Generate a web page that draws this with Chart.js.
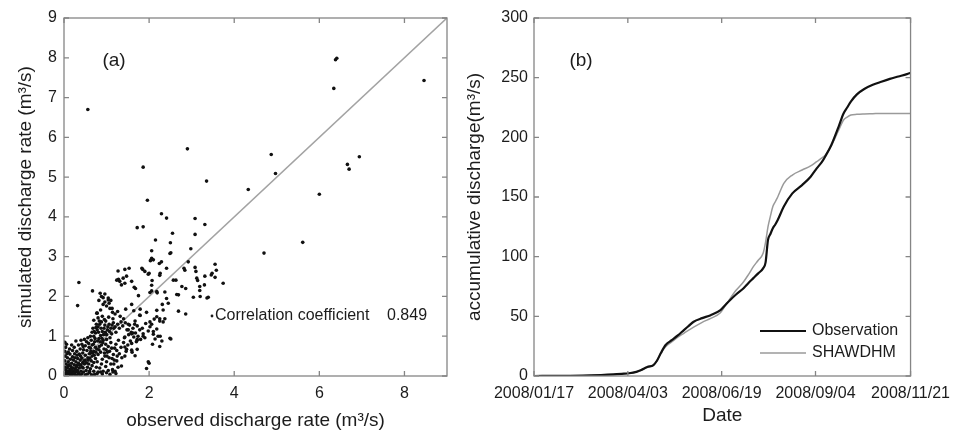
<!DOCTYPE html>
<html lang="en">
<head>
<meta charset="UTF-8">
<title>Observed vs simulated discharge</title>
<script src="https://cdn.jsdelivr.net/npm/chart.js"></script>
<style>
  body { margin: 0; background: #fff; }
  .wrap { position: relative; width: 958px; height: 430px; }
  .panel { position: absolute; top: 0; height: 430px; }
  #panelA { left: 0; width: 460px; }
  #panelB { left: 455px; width: 503px; }
</style>
</head>
<body>
<div class="wrap">
  <div class="panel" id="panelA"><canvas id="scatterChart"></canvas></div>
  <div class="panel" id="panelB"><canvas id="cumChart"></canvas></div>
</div>

<script>
// ---- (a) observed vs simulated discharge rate, [observed, simulated] in m3/s ----
const outlierPoints = [
  [0.56,6.70],[6.41,7.99],[6.38,7.95],[6.34,7.23],[8.46,7.43],[2.90,5.71],[1.86,5.25],
  [4.87,5.57],[4.97,5.09],[6.66,5.32],[6.70,5.20],[6.94,5.51],[3.35,4.90],[4.33,4.69],
  [6.00,4.57],[1.96,4.42],[5.61,3.36],[4.70,3.09],[2.29,4.08],[2.41,3.97],[3.08,3.96],
  [3.31,3.81],[1.72,3.73],[1.86,3.75]
];
const spreadPoints = [
  [2.15,3.42],[2.55,3.59],[3.08,3.56],[2.50,3.35],[2.06,3.15],[2.51,3.10],[2.98,3.20],
  [2.06,2.96],[2.10,2.92],[2.24,2.83],[2.29,2.87],[1.85,2.68],[1.90,2.63],[2.00,2.58],
  [2.26,2.58],[2.84,2.66],[3.08,2.73],[3.10,2.63],[3.55,2.81],[3.58,2.66],[3.48,2.58],
  [3.55,2.48],[3.74,2.33],[3.31,2.51],[2.07,2.40],[2.57,2.41],[2.63,2.41],[3.14,2.40],
  [2.86,2.20],[3.19,2.25],[3.19,2.15],[2.06,2.28],[2.06,2.14],[2.19,2.09],[2.37,2.11],
  [2.69,2.04],[3.04,1.98],[3.39,1.98],[1.68,2.20],[2.92,2.87],[3.12,2.46],[2.82,2.71],
  [2.65,2.05],[2.77,2.25],[2.31,1.80],[2.18,1.65],[2.69,1.63],[2.86,1.56],[2.41,1.95],
  [1.65,2.23],[1.75,2.02],[1.28,2.43],[1.43,2.68],[1.47,2.51],[1.53,2.71],[1.27,2.64],
  [1.35,2.29],[1.59,2.38],[1.39,2.46],[1.24,2.41],[1.31,2.38],[1.43,2.33],[1.83,2.71],
  [1.98,2.56],[2.02,2.10],[2.18,2.12],[2.25,2.53],[2.03,2.90],[2.49,3.08],[2.41,2.71],
  [3.20,2.00],[3.30,2.29],[3.46,2.54],[3.36,1.96],[0.35,2.35],[0.32,1.77],[0.67,2.14],
  [0.85,2.08],[0.96,2.06],[0.92,1.97],[1.04,1.91],[1.06,1.83],[0.77,1.58],[1.13,1.70]
];
const midPoints = [
  [2.25,1.44],[2.37,1.44],[2.33,1.36],[2.02,1.36],[2.18,1.49],[2.33,1.66],[2.45,1.83],
  [2.25,1.38],[2.02,1.24],[2.10,1.12],[2.21,1.00],[2.25,0.74],[2.49,0.95],[2.51,0.93],
  [1.94,0.19],[2.00,0.32],[1.98,0.36],[1.92,1.32],[1.67,0.51],[1.59,0.65],[1.43,0.73],
  [1.72,0.90],[1.86,1.00],[1.98,1.13],[2.10,1.05],[2.18,1.18],[2.14,0.93],[2.08,0.80],
  [2.26,1.00],[2.30,0.88],[2.06,1.30],[2.12,1.43],[1.94,1.60],[1.79,1.52],[1.64,1.64],
  [1.67,1.38],[1.51,1.30],[1.45,1.68],[1.59,1.80],[1.79,1.68],[1.43,0.98],[1.59,1.06],
  [1.78,1.53],[1.51,1.16],[1.62,1.08],[1.72,0.92],[1.59,0.82],[1.47,0.67],[1.72,0.67],
  [1.43,0.50],[1.24,0.38],[1.35,0.25]
];
const clusterPoints = [
  [0.02,0.01],[0.05,0.02],[0.08,0.01],[0.10,0.04],[0.03,0.06],[0.12,0.02],[0.15,0.05],
  [0.06,0.10],[0.18,0.03],[0.20,0.08],[0.04,0.15],[0.10,0.12],[0.14,0.16],[0.22,0.12],
  [0.25,0.04],[0.28,0.10],[0.30,0.02],[0.02,0.22],[0.08,0.20],[0.16,0.24],[0.20,0.20],
  [0.26,0.18],[0.32,0.14],[0.35,0.06],[0.38,0.02],[0.05,0.30],[0.12,0.28],[0.18,0.32],
  [0.24,0.28],[0.30,0.26],[0.36,0.20],[0.40,0.12],[0.02,0.38],[0.10,0.36],[0.15,0.42],
  [0.22,0.40],[0.28,0.36],[0.34,0.32],[0.40,0.28],[0.03,0.50],[0.08,0.46],[0.20,0.48],
  [0.26,0.46],[0.32,0.44],[0.38,0.40],[0.44,0.34],[0.02,0.62],[0.04,0.72],[0.02,0.85],
  [0.06,0.80],[0.10,0.60],[0.14,0.55],
  [0.42,0.05],[0.46,0.10],[0.50,0.03],[0.52,0.14],[0.45,0.20],[0.55,0.22],[0.60,0.08],
  [0.62,0.18],[0.48,0.30],[0.58,0.30],[0.66,0.26],[0.70,0.12],[0.72,0.04],[0.42,0.45],
  [0.50,0.40],[0.56,0.46],[0.64,0.38],[0.70,0.34],[0.76,0.22],[0.80,0.10],[0.36,0.55],
  [0.44,0.58],[0.50,0.52],[0.60,0.56],[0.66,0.50],[0.74,0.44],[0.78,0.36],[0.30,0.62],
  [0.38,0.68],[0.46,0.66],[0.54,0.64],[0.62,0.70],[0.70,0.62],[0.80,0.54],[0.34,0.78],
  [0.42,0.80],[0.50,0.76],[0.58,0.82],[0.66,0.78],[0.74,0.72],[0.82,0.66],[0.40,0.90],
  [0.48,0.92],[0.56,0.96],[0.64,0.90],[0.72,0.86],[0.28,0.88],[0.24,0.72],[0.20,0.64],
  [0.18,0.78],
  [0.70,1.00],[0.74,1.08],[0.78,1.16],[0.80,1.24],[0.84,1.30],[0.76,1.30],[0.86,1.02],
  [0.90,1.12],[0.94,1.20],[0.88,1.36],[0.96,1.28],[1.00,1.04],[1.02,1.16],[1.06,1.30],
  [0.98,1.38],[1.10,1.20],[1.12,1.06],[1.16,1.34],[1.20,1.24],[1.22,1.10],[1.26,1.30],
  [1.30,1.20],[1.34,1.36],[1.38,1.26],[0.82,0.94],[0.92,0.90],[1.00,0.92],[1.08,0.96],
  [0.68,1.20],[0.66,1.10],[0.62,1.00],[0.70,1.40],[0.80,1.46],[0.90,1.50],[0.78,1.58],
  [0.86,1.66],[0.92,1.80],[0.82,1.90],[0.96,1.86],[1.00,1.76],[0.88,2.00],[1.04,1.96],
  [1.10,1.90],[1.08,1.70],[1.14,1.60],[1.20,1.56],[1.26,1.62],[1.32,1.50],[1.40,1.44],
  [1.44,1.34],
  [0.84,0.20],[0.88,0.30],[0.90,0.42],[0.92,0.12],[0.96,0.50],[0.98,0.24],[1.00,0.36],
  [1.02,0.60],[1.04,0.14],[1.06,0.46],[1.10,0.30],[1.12,0.70],[1.14,0.16],[1.16,0.54],
  [1.18,0.40],[1.20,0.12],[1.22,0.80],[1.24,0.64],[1.10,0.84],[0.94,0.68],[0.86,0.60],
  [0.88,0.78],[0.98,0.80],[1.04,0.74],[1.30,0.56],[1.34,0.72],[1.28,0.90],[1.36,0.46],
  [1.40,0.84],[1.46,0.62],[1.50,0.78],[1.42,0.96],[1.56,0.88],[1.60,0.60],[1.64,0.98],
  [1.70,0.86],[1.52,1.04],[1.58,1.10],[1.68,1.08],[1.74,1.00],[1.80,0.92],[1.78,1.16],
  [1.86,1.06],[1.62,1.20],[1.48,1.16],[1.54,1.28],[1.66,1.30],[1.72,1.26],[1.84,1.20],
  [1.90,0.96],
  [0.55,0.05],[0.65,0.03],[0.78,0.06],[0.90,0.05],[1.00,0.08],[1.08,0.04],[1.15,0.10],
  [1.22,0.06],[0.60,0.12],[0.86,0.10]
];
const denseCorePoints = [
  [0.07,0.05],[0.13,0.08],[0.17,0.12],[0.23,0.07],[0.27,0.14],[0.33,0.09],[0.09,0.25],
  [0.19,0.16],[0.29,0.22],[0.37,0.27],[0.43,0.22],[0.47,0.38],[0.53,0.33],[0.57,0.40],
  [0.61,0.45],[0.67,0.58],[0.71,0.52],[0.75,0.60],[0.77,0.68],[0.83,0.74],[0.85,0.86],
  [0.89,0.95],[0.93,1.04],[0.97,1.10],[1.03,1.24],[1.07,1.12],[1.13,1.28],[1.17,1.20],
  [0.79,0.88],[0.73,0.94],[0.69,0.80],[0.63,0.62],[0.59,0.72],[0.53,0.86],[0.45,0.74],
  [0.39,0.50],[0.31,0.52],[0.25,0.56],[0.13,0.68],[0.07,0.56],[0.95,0.58],[1.01,0.50],
  [1.07,0.62],[1.13,0.44],[1.19,0.70],[1.25,0.50],[1.17,0.30],[1.27,0.22],[0.99,0.66],
  [0.91,0.84],[0.81,1.10],[0.87,1.20],[0.95,1.42],[1.05,1.48],[1.15,1.44],[0.75,1.22],
  [0.83,1.38],[0.71,1.12]
];
const oneToOne = [0, 9];
const rateXTicks = [0, 2, 4, 6, 8];
const rateYTicks = [0, 1, 2, 3, 4, 5, 6, 7, 8, 9];
const correlation = 0.849;

// ---- (b) accumulative discharge (m3/s), day counted from 2008/01/17 ----
const days = [0, 20, 40, 55, 65, 72, 78, 84, 88, 93, 98, 101, 104, 108, 113, 118, 123, 127,
  131, 138, 145, 153, 157, 161, 166, 172, 176, 180, 184, 188, 190, 192, 194, 196, 198, 200,
  205, 212, 220, 227, 232, 236, 239, 244, 250, 254, 257, 260, 265, 271, 278, 285, 292, 299,
  306, 309];
const observation = [0, 0.1, 0.3, 0.8, 1.3, 1.8, 2.3, 3.5, 5, 7.5, 9.2, 13, 19, 26, 30, 34,
  38.5, 42, 45.5, 48.5, 51, 55.3, 59.5, 63.7, 68.5, 73.5, 78, 82, 86, 90.2, 95, 114, 119,
  123.8, 127, 130.7, 142, 153, 160, 167, 174, 179, 184, 193.6, 209, 220, 225, 230, 236, 240.5,
  244, 246.6, 249, 251, 253, 254];
const shawdhm = [0, 0.1, 0.3, 0.7, 1.1, 1.6, 2.2, 3.3, 4.8, 7.2, 9, 13, 19, 24.6, 28.5, 32.5,
  35.8, 38.5, 41, 45, 48.3, 53, 59, 65, 72, 79, 85, 91.6, 97, 102.8, 112, 125, 134, 142, 146,
  150, 161.5, 168.4, 172.6, 176, 179.6, 182.5, 185, 193, 206, 214.5, 217, 218.7, 219.3, 219.6,
  219.8, 220, 220, 220, 220, 220];
const dateTicks = [0, 77, 154, 231, 309];
const dateLabels = ['2008/01/17', '2008/04/03', '2008/06/19', '2008/09/04', '2008/11/21'];
const cumTicks = [0, 50, 100, 150, 200, 250, 300];

Chart.defaults.font.family = '"Liberation Sans", Arial, Helvetica, sans-serif';
Chart.defaults.color = '#1c1c1c';

const ink = '#1c1c1c';
const frameColor = '#858585';

// box around the plot with inward ticks on all four sides (matlab style)
const matlabFrame = {
  id: 'matlabFrame',
  afterDatasetsDraw(chart) {
    const { ctx, chartArea: a, scales: { x, y } } = chart;
    ctx.save();
    ctx.strokeStyle = frameColor;
    ctx.lineWidth = 1.3;
    ctx.strokeRect(a.left, a.top, a.right - a.left, a.bottom - a.top);
    ctx.beginPath();
    x.ticks.forEach(t => {
      const px = x.getPixelForValue(t.value);
      ctx.moveTo(px, a.bottom); ctx.lineTo(px, a.bottom - 5);
      ctx.moveTo(px, a.top); ctx.lineTo(px, a.top + 5);
    });
    y.ticks.forEach(t => {
      const py = y.getPixelForValue(t.value);
      ctx.moveTo(a.left, py); ctx.lineTo(a.left + 5, py);
      ctx.moveTo(a.right, py); ctx.lineTo(a.right - 5, py);
    });
    ctx.stroke();
    ctx.restore();
  }
};

function fixedTicks(list) {
  return scale => { scale.ticks = list.map(v => ({ value: v })); };
}

const tickFont = { size: 16 };
const titleFont = { size: 19 };

// ---------- panel (a) ----------
const rateNotes = {
  id: 'rateNotes',
  afterDraw(chart) {
    const { ctx, chartArea: a } = chart;
    ctx.save();
    ctx.fillStyle = ink;
    ctx.textBaseline = 'middle';
    ctx.font = '19px "Liberation Sans", Arial, sans-serif';
    ctx.textAlign = 'center';
    ctx.fillText('(a)', a.left + 50, a.top + 43);
    // legend entry: marker + text
    ctx.beginPath();
    ctx.arc(a.left + 148, a.top + 298, 1.4, 0, Math.PI * 2);
    ctx.fill();
    ctx.font = '16px "Liberation Sans", Arial, sans-serif';
    ctx.textAlign = 'left';
    ctx.fillText('Correlation coefficient', a.left + 151, a.top + 298);
    ctx.fillText(correlation.toFixed(3), a.left + 323, a.top + 298);
    ctx.restore();
  }
};

const allRatePoints = clusterPoints.concat(denseCorePoints, midPoints, spreadPoints, outlierPoints);

new Chart(document.getElementById('scatterChart'), {
  type: 'scatter',
  data: {
    datasets: [
      {
        data: allRatePoints.map(p => ({ x: p[0], y: p[1] })),
        backgroundColor: '#111',
        borderWidth: 0,
        pointRadius: 1.8,
        order: 1
      },
      {
        type: 'line',
        data: oneToOne.map(v => ({ x: v, y: v })),
        borderColor: '#a3a3a3',
        borderWidth: 1.6,
        pointRadius: 0,
        order: 2
      }
    ]
  },
  options: {
    responsive: true,
    maintainAspectRatio: false,
    animation: false,
    layout: { padding: { top: 18, right: 13, left: 0, bottom: 0 } },
    plugins: { legend: { display: false }, tooltip: { enabled: false } },
    scales: {
      x: {
        type: 'linear', min: 0, max: 9,
        afterBuildTicks: fixedTicks(rateXTicks),
        afterFit(s) { s.height = 54; },
        grid: { display: false, drawTicks: false },
        border: { display: false },
        ticks: { padding: 8, font: tickFont, color: ink, maxRotation: 0, autoSkip: false },
        title: {
          display: true, text: 'observed discharge rate (m³/s)', color: ink,
          font: { size: 19, lineHeight: 1 }, padding: { top: 0, bottom: 0 }
        }
      },
      y: {
        type: 'linear', min: 0, max: 9,
        afterBuildTicks: fixedTicks(rateYTicks),
        afterFit(s) { s.width = 64; },
        grid: { display: false, drawTicks: false },
        border: { display: false },
        ticks: { padding: 7, font: tickFont, color: ink, autoSkip: false },
        title: {
          display: true, text: 'simulated discharge rate (m³/s)', color: ink,
          font: titleFont, padding: { top: 14, bottom: 0 }
        }
      }
    }
  },
  plugins: [matlabFrame, rateNotes]
});

// ---------- panel (b) ----------
const cumNotes = {
  id: 'cumNotes',
  afterDraw(chart) {
    const { ctx, chartArea: a } = chart;
    ctx.save();
    ctx.fillStyle = ink;
    ctx.textBaseline = 'middle';
    ctx.font = '19px "Liberation Sans", Arial, sans-serif';
    ctx.textAlign = 'center';
    ctx.fillText('(b)', a.left + 47, a.top + 43);
    // legend
    const rows = [
      { label: 'Observation', color: '#111', width: 2.2, dy: 313 },
      { label: 'SHAWDHM', color: '#9a9a9a', width: 1.5, dy: 335 }
    ];
    ctx.font = '16px "Liberation Sans", Arial, sans-serif';
    ctx.textAlign = 'left';
    rows.forEach(r => {
      ctx.beginPath();
      ctx.strokeStyle = r.color;
      ctx.lineWidth = r.width;
      ctx.moveTo(a.left + 226, a.top + r.dy);
      ctx.lineTo(a.left + 272, a.top + r.dy);
      ctx.stroke();
      ctx.fillText(r.label, a.left + 278, a.top + r.dy);
    });
    ctx.restore();
  }
};

new Chart(document.getElementById('cumChart'), {
  type: 'line',
  data: {
    datasets: [
      {
        label: 'Observation',
        data: days.map((d, i) => ({ x: d, y: observation[i] })),
        borderColor: '#111',
        borderWidth: 2.2,
        pointRadius: 0,
        cubicInterpolationMode: 'monotone'
      },
      {
        label: 'SHAWDHM',
        data: days.map((d, i) => ({ x: d, y: shawdhm[i] })),
        borderColor: '#9a9a9a',
        borderWidth: 1.5,
        pointRadius: 0,
        cubicInterpolationMode: 'monotone'
      }
    ]
  },
  options: {
    responsive: true,
    maintainAspectRatio: false,
    animation: false,
    layout: { padding: { top: 18, right: 41, left: 0, bottom: 0 } },
    plugins: { legend: { display: false }, tooltip: { enabled: false } },
    scales: {
      x: {
        type: 'linear', min: 0, max: 309,
        afterBuildTicks: fixedTicks(dateTicks),
        afterFit(s) { s.height = 54; },
        grid: { display: false, drawTicks: false },
        border: { display: false },
        ticks: {
          padding: 8, font: tickFont, color: ink, maxRotation: 0, autoSkip: false,
          callback: (v, i) => dateLabels[i]
        },
        title: {
          display: true, text: 'Date', color: ink,
          font: titleFont, padding: { top: 0, bottom: 3 }
        }
      },
      y: {
        type: 'linear', min: 0, max: 300,
        afterBuildTicks: fixedTicks(cumTicks),
        afterFit(s) { s.width = 79; },
        grid: { display: false, drawTicks: false },
        border: { display: false },
        ticks: { padding: 6, font: tickFont, color: ink, autoSkip: false },
        title: {
          display: true, text: 'accumulative discharge(m³/s)', color: ink,
          font: titleFont, padding: { top: 8, bottom: 0 }
        }
      }
    }
  },
  plugins: [matlabFrame, cumNotes]
});
</script>
</body>
</html>
